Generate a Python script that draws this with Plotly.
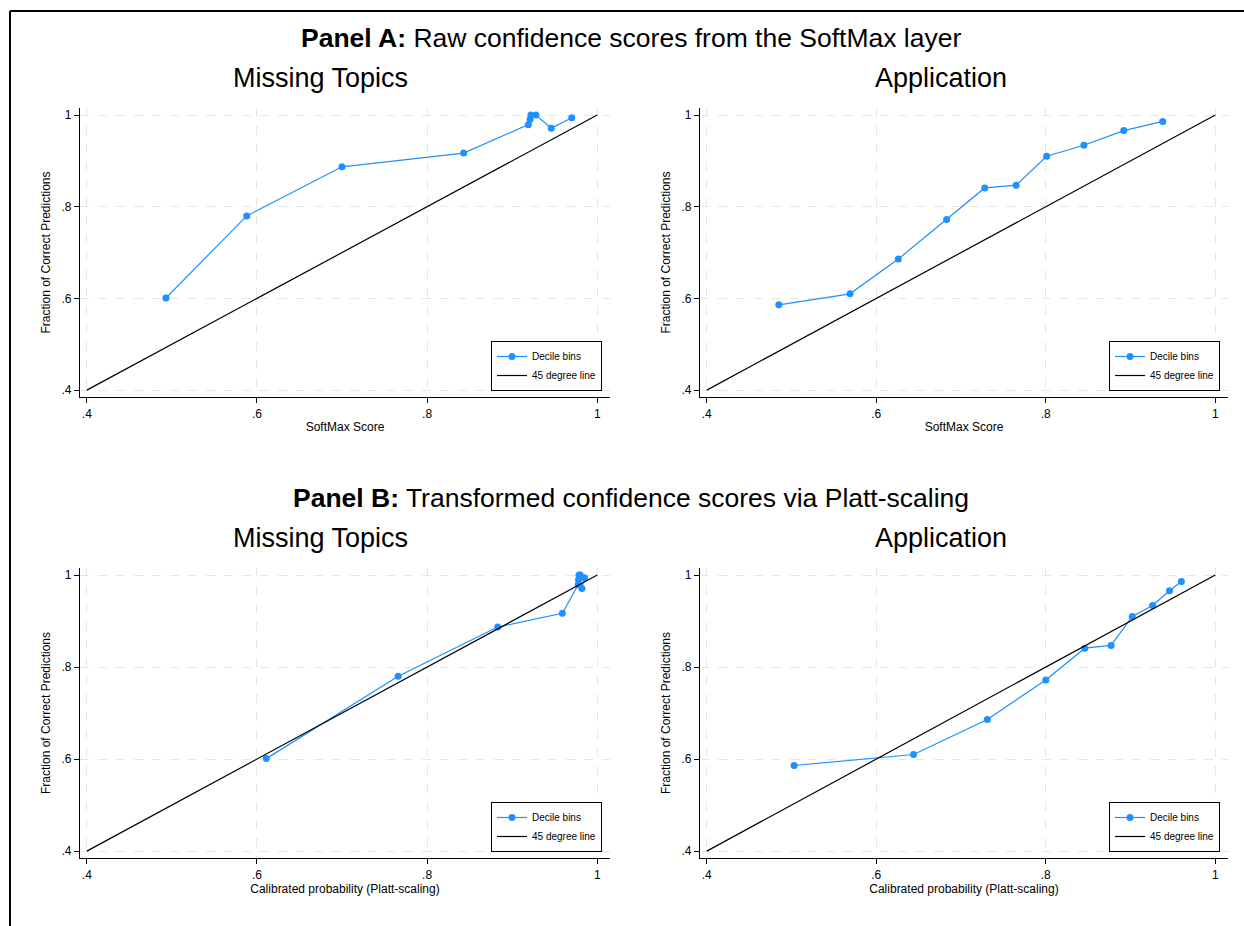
import plotly.graph_objects as go

# Decile-bin calibration data (mean score per bin, fraction correct per bin)
missing_raw_x = [0.493, 0.588, 0.700, 0.843, 0.919, 0.921, 0.922, 0.928, 0.946, 0.970]
missing_platt_x = [0.611, 0.766, 0.883, 0.959, 0.9775, 0.978, 0.9785, 0.980, 0.982, 0.985]
missing_y = [0.601, 0.780, 0.887, 0.917, 0.979, 0.990, 1.000, 1.000, 0.971, 0.994]

app_raw_x = [0.485, 0.569, 0.626, 0.683, 0.728, 0.765, 0.801, 0.845, 0.892, 0.938]
app_platt_x = [0.503, 0.644, 0.731, 0.800, 0.846, 0.877, 0.902, 0.926, 0.946, 0.960]
app_y = [0.586, 0.610, 0.686, 0.772, 0.841, 0.847, 0.910, 0.934, 0.966, 0.986]

diag = [0.4, 1.0]
tick_vals = [0.4, 0.6, 0.8, 1.0]
tick_text = [".4", ".6", ".8", "1"]

W, H = 1244, 926
FONT = "Liberation Sans, Arial, sans-serif"
BLUE = "rgb(30,144,255)"


def px_x(p):
    return p / W


def px_y(p):
    return 1 - p / H


# plot areas in pixels: (left, right, top, bottom)
areas = [
    (80, 610, 108, 397),
    (700, 1228, 108, 397),
    (80, 610, 568, 858),
    (700, 1228, 568, 858),
]
panels = [
    (missing_raw_x, missing_y, "SoftMax Score"),
    (app_raw_x, app_y, "SoftMax Score"),
    (missing_platt_x, missing_y, "Calibrated probability (Platt-scaling)"),
    (app_platt_x, app_y, "Calibrated probability (Platt-scaling)"),
]

fig = go.Figure()
layout = {}

for i, ((l, r, t, b), (xs, ys, xtitle)) in enumerate(zip(areas, panels), start=1):
    sfx = "" if i == 1 else str(i)
    leg = "legend" if i == 1 else f"legend{i}"
    fig.add_trace(go.Scatter(
        x=xs, y=ys, mode="lines+markers", name="Decile bins",
        line=dict(color=BLUE, width=1.2),
        marker=dict(color=BLUE, size=7),
        xaxis=f"x{sfx}", yaxis=f"y{sfx}", legend=leg,
    ))
    fig.add_trace(go.Scatter(
        x=diag, y=diag, mode="lines", name="45 degree line",
        line=dict(color="black", width=1.2),
        xaxis=f"x{sfx}", yaxis=f"y{sfx}", legend=leg,
    ))
    axis_common = dict(
        tickvals=tick_vals, ticktext=tick_text,
        ticks="outside", ticklen=5, tickwidth=1, tickcolor="black",
        showline=True, linecolor="black", linewidth=1.3,
        showgrid=True, gridcolor="rgb(230,230,230)", griddash="dash", gridwidth=1,
        zeroline=False,
        tickfont=dict(family=FONT, size=12, color="black"),
    )
    layout[f"xaxis{sfx}"] = dict(
        axis_common,
        domain=[px_x(l), px_x(r)], range=[0.392, 1.015],
        anchor=f"y{sfx}",
        title=dict(text=xtitle, font=dict(family=FONT, size=12, color="black"), standoff=3),
    )
    layout[f"yaxis{sfx}"] = dict(
        axis_common,
        domain=[px_y(b), px_y(t)], range=[0.385, 1.0153],
        anchor=f"x{sfx}",
        title=dict(text="Fraction of Correct Predictions",
                   font=dict(family=FONT, size=12, color="black"), standoff=8),
    )
    layout[leg] = dict(
        xref="paper", yref="paper",
        x=px_x(r - 8), xanchor="right",
        y=px_y(b - 6), yanchor="bottom",
        bgcolor="white", bordercolor="black", borderwidth=1,
        font=dict(family=FONT, size=10, color="black"),
        tracegroupgap=0, itemwidth=30,
    )

annotations = [
    dict(text="<b>Panel A:</b> Raw confidence scores from the SoftMax layer",
         x=px_x(631), y=px_y(38), font=dict(size=26.5)),
    dict(text="Missing Topics", x=px_x(320), y=px_y(78), font=dict(size=27)),
    dict(text="Application", x=px_x(941), y=px_y(78), font=dict(size=27)),
    dict(text="<b>Panel B:</b> Transformed confidence scores via Platt-scaling",
         x=px_x(631), y=px_y(498), font=dict(size=26.5)),
    dict(text="Missing Topics", x=px_x(320), y=px_y(538), font=dict(size=27)),
    dict(text="Application", x=px_x(941), y=px_y(538), font=dict(size=27)),
]
for a in annotations:
    a.update(xref="paper", yref="paper", xanchor="center", yanchor="middle",
             showarrow=False)
    a["font"].update(family=FONT, color="black")

# outer frame (top and left edges)
shapes = [
    dict(type="line", xref="paper", yref="paper",
         x0=px_x(10), y0=px_y(11), x1=1, y1=px_y(11),
         line=dict(color="black", width=2)),
    dict(type="line", xref="paper", yref="paper",
         x0=px_x(10), y0=px_y(11), x1=px_x(10), y1=0,
         line=dict(color="black", width=2)),
]

fig.update_layout(
    width=W, height=H,
    margin=dict(l=0, r=0, t=0, b=0),
    paper_bgcolor="white", plot_bgcolor="white",
    annotations=annotations, shapes=shapes,
    showlegend=True,
    **layout,
)

fig.write_html("out.html")
